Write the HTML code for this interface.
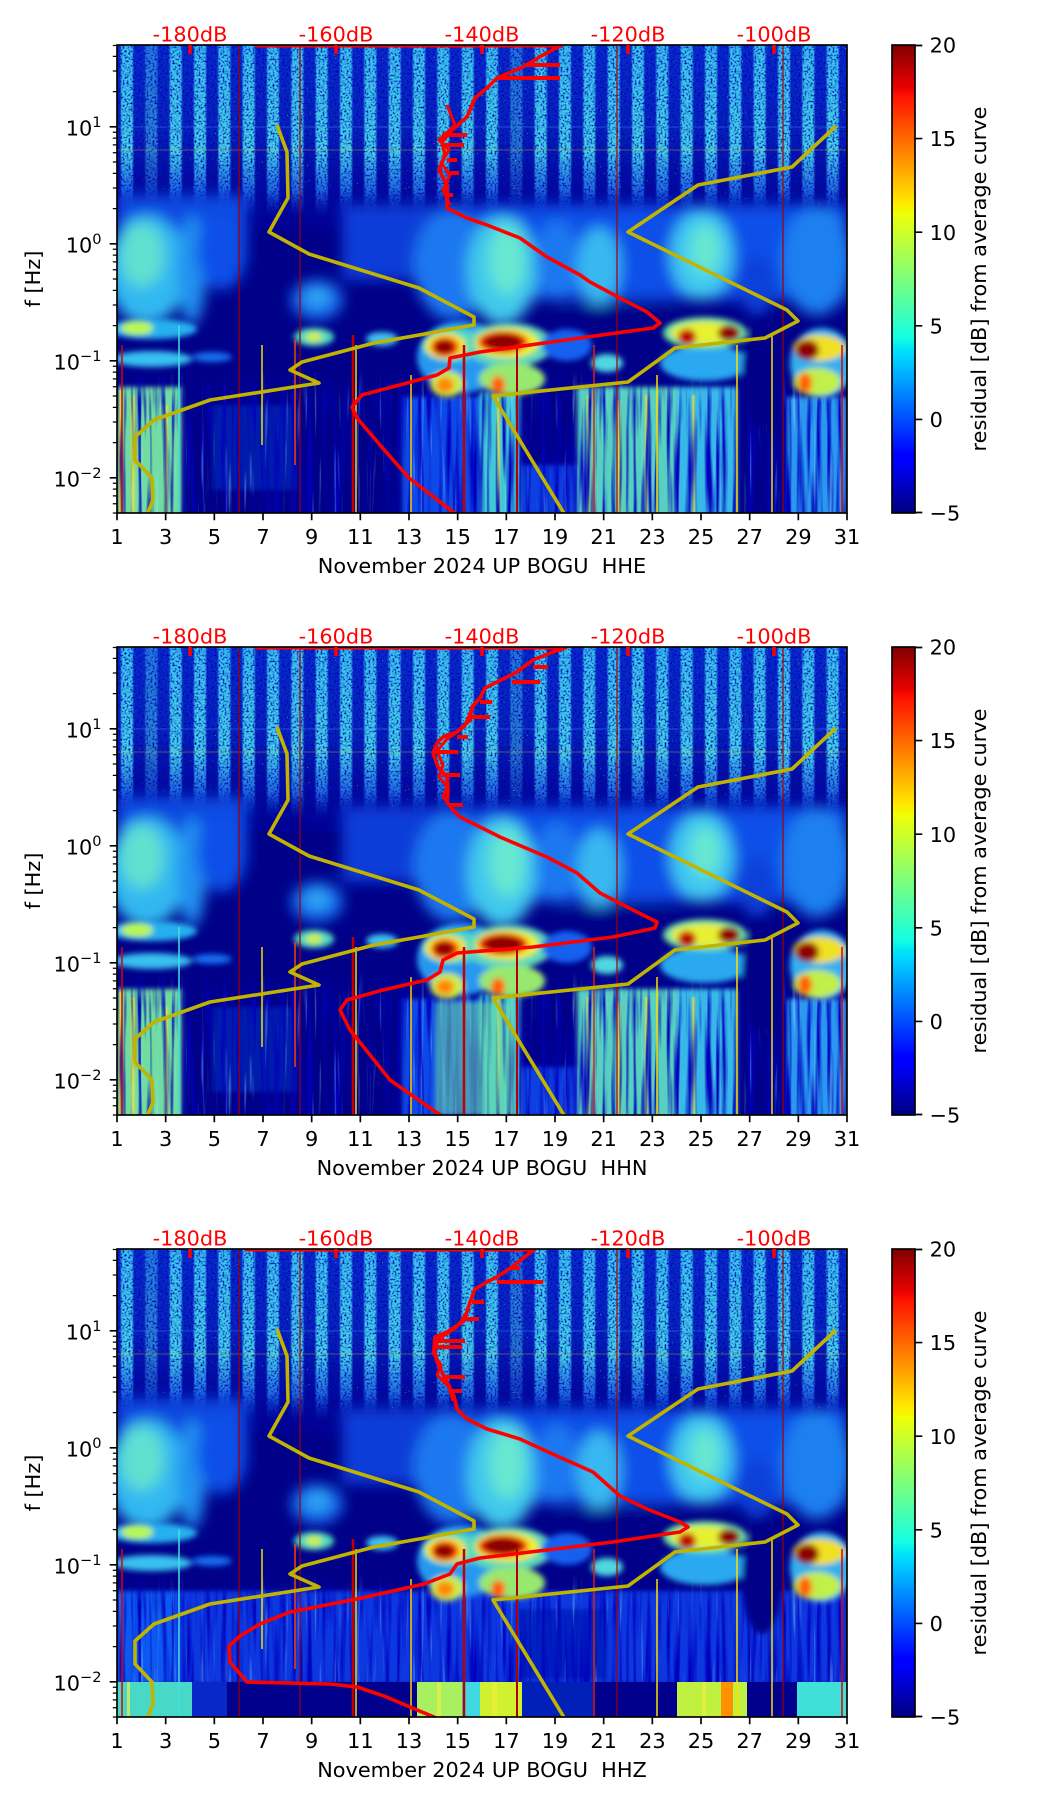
<!DOCTYPE html>
<html><head><meta charset="utf-8"><style>html,body{margin:0;padding:0;background:#fff}svg{display:block}</style></head>
<body>
<svg xmlns="http://www.w3.org/2000/svg" xmlns:xlink="http://www.w3.org/1999/xlink" width="1052" height="1806" viewBox="0 0 1052 1806" font-family="'DejaVu Sans', 'Liberation Sans', sans-serif" font-size="20.83">
<defs>
<clipPath id="pc"><rect x="0" y="0" width="730" height="468"/></clipPath>
<linearGradient id="jet" x1="0" y1="1" x2="0" y2="0">
<stop offset="0" stop-color="#000080"/><stop offset="0.11" stop-color="#0000ff"/><stop offset="0.125" stop-color="#0000ff"/>
<stop offset="0.34" stop-color="#00dbff"/><stop offset="0.35" stop-color="#00e5f7"/><stop offset="0.375" stop-color="#15ffe2"/>
<stop offset="0.64" stop-color="#efff08"/><stop offset="0.65" stop-color="#f7f500"/><stop offset="0.66" stop-color="#ffec00"/>
<stop offset="0.89" stop-color="#ff1300"/><stop offset="0.91" stop-color="#e80000"/><stop offset="1" stop-color="#800000"/>
</linearGradient>
<linearGradient id="upg" x1="0" y1="0" x2="0" y2="1">
<stop offset="0" stop-color="#082cc8"/><stop offset="0.45" stop-color="#0624b8"/><stop offset="0.68" stop-color="#03109e"/><stop offset="0.88" stop-color="#01068e"/><stop offset="1" stop-color="#000088"/>
</linearGradient>
<linearGradient id="stg" x1="0" y1="0" x2="0" y2="1">
<stop offset="0" stop-color="#38c4ec"/><stop offset="0.62" stop-color="#44d4e4"/><stop offset="0.84" stop-color="#2890f0" stop-opacity="0.75"/><stop offset="1" stop-color="#0a40d8" stop-opacity="0"/>
</linearGradient>
<linearGradient id="lmg" x1="0" y1="0" x2="0" y2="1">
<stop offset="0" stop-color="#000"/><stop offset="0.22" stop-color="#fff"/><stop offset="1" stop-color="#fff"/>
</linearGradient>
<mask id="lm" maskUnits="userSpaceOnUse" x="0" y="0" width="730" height="470"><rect x="0" y="325" width="730" height="145" fill="url(#lmg)"/></mask>
<filter id="bl7" filterUnits="userSpaceOnUse" x="-60" y="-60" width="850" height="590"><feGaussianBlur stdDeviation="7"/></filter>
<filter id="bl3" filterUnits="userSpaceOnUse" x="-60" y="-60" width="850" height="590"><feGaussianBlur stdDeviation="3"/></filter>
<filter id="bl2" filterUnits="userSpaceOnUse" x="-60" y="-60" width="850" height="590"><feGaussianBlur stdDeviation="2.5"/></filter>
<filter id="bl1" filterUnits="userSpaceOnUse" x="-60" y="-60" width="850" height="590"><feGaussianBlur stdDeviation="0.9"/></filter>
<filter id="spkN" filterUnits="userSpaceOnUse" x="0" y="0" width="730" height="185">
<feTurbulence type="fractalNoise" baseFrequency="0.5" numOctaves="1" seed="4"/>
<feColorMatrix type="matrix" values="0 0 0 0 0  0 0 0 0 0  0 0 0 0 0.53  3 0 0 0 -1.35"/>
</filter>
<filter id="spkB" filterUnits="userSpaceOnUse" x="0" y="0" width="730" height="160">
<feTurbulence type="fractalNoise" baseFrequency="0.6" numOctaves="1" seed="9"/>
<feColorMatrix type="matrix" values="0 0 0 0 1  0 0 0 0 0.9  0 0 0 0 0.15  0 10 0 0 -7.4"/>
</filter>
<filter id="vst" filterUnits="userSpaceOnUse" x="0" y="320" width="730" height="150">
<feTurbulence type="fractalNoise" baseFrequency="0.2 0.008" numOctaves="2" seed="12"/>
<feColorMatrix type="matrix" values="0 0 0 0 0  0 0 0 0 0  0 0 0 0 0.5  3.2 0 0 0 -1.45"/>
</filter>
<filter id="vstB" filterUnits="userSpaceOnUse" x="0" y="320" width="730" height="150">
<feTurbulence type="fractalNoise" baseFrequency="0.25 0.01" numOctaves="2" seed="21"/>
<feColorMatrix type="matrix" values="0 0 0 0 0.3  0 0 0 0 0.85  0 0 0 0 0.95  0 6 0 0 -3.8"/>
</filter>

<g id="specU">
<rect x="0" y="0" width="730" height="185" fill="url(#upg)"/>
<g filter="url(#bl1)" fill="url(#stg)">
<rect x="4" y="0" width="12" height="172"/>
<rect x="28.3" y="0" width="12" height="172" opacity="0.55"/>
<rect x="52.7" y="0" width="12" height="172"/>
<rect x="77" y="0" width="12" height="172"/>
<rect x="101.3" y="0" width="12" height="172"/>
<rect x="125.7" y="0" width="12" height="172"/>
<rect x="150" y="0" width="12" height="172"/>
<rect x="174.3" y="0" width="12" height="172"/>
<rect x="198.7" y="0" width="12" height="172"/>
<rect x="223" y="0" width="12" height="172"/>
<rect x="247.3" y="0" width="12" height="172"/>
<rect x="271.7" y="0" width="12" height="172"/>
<rect x="296" y="0" width="12" height="172"/>
<rect x="320.3" y="0" width="12" height="172"/>
<rect x="344.7" y="0" width="12" height="172"/>
<rect x="369" y="0" width="12" height="172"/>
<rect x="393.3" y="0" width="12" height="172" opacity="0.5"/>
<rect x="417.7" y="0" width="12" height="172"/>
<rect x="442" y="0" width="12" height="172"/>
<rect x="466.3" y="0" width="12" height="172"/>
<rect x="490.7" y="0" width="12" height="172"/>
<rect x="515" y="0" width="12" height="172"/>
<rect x="539.3" y="0" width="12" height="172"/>
<rect x="563.7" y="0" width="12" height="172"/>
<rect x="588" y="0" width="12" height="172"/>
<rect x="612.3" y="0" width="12" height="172"/>
<rect x="636.7" y="0" width="12" height="172"/>
<rect x="661" y="0" width="12" height="172"/>
<rect x="685.3" y="0" width="12" height="172"/>
<rect x="709.7" y="0" width="12" height="172"/>
</g>
<rect x="0" y="0" width="730" height="185" filter="url(#spkN)"/>
<rect x="0" y="0" width="730" height="160" filter="url(#spkB)"/>
<rect x="0" y="81" width="730" height="2" fill="#40a0f0" opacity="0.2"/>
<rect x="0" y="104" width="730" height="2" fill="#f0c020" opacity="0.18"/>
<g filter="url(#bl7)">
<rect x="0" y="150" width="130" height="50" fill="#0a48e0"/>
<rect x="225" y="160" width="145" height="75" fill="#0a3cd8"/>
<rect x="363" y="160" width="367" height="95" fill="#0c50e8"/>
<ellipse cx="30" cy="225" rx="40" ry="55" fill="#30b8f0"/>
<ellipse cx="25" cy="210" rx="22" ry="32" fill="#60e0d0"/>
<ellipse cx="75" cy="225" rx="14" ry="55" fill="#2090f0"/>
<ellipse cx="105" cy="205" rx="25" ry="40" fill="#0c50e8"/>
<ellipse cx="200" cy="255" rx="26" ry="20" fill="#1870f0"/>
<ellipse cx="200" cy="252" rx="12" ry="10" fill="#30a8f0"/>
<ellipse cx="335" cy="220" rx="38" ry="55" fill="#1a78f0"/>
<ellipse cx="385" cy="225" rx="35" ry="55" fill="#40c8ec"/>
<ellipse cx="390" cy="215" rx="18" ry="35" fill="#68e8d0"/>
<ellipse cx="440" cy="215" rx="22" ry="40" fill="#1c78f0"/>
<ellipse cx="482" cy="222" rx="22" ry="40" fill="#38b8f0"/>
<ellipse cx="585" cy="210" rx="32" ry="45" fill="#40c8f0"/>
<ellipse cx="588" cy="205" rx="15" ry="25" fill="#68e8d0"/>
<ellipse cx="700" cy="215" rx="35" ry="55" fill="#1a80f0"/>
<ellipse cx="640" cy="240" rx="18" ry="30" fill="#0a40d8"/>
<ellipse cx="500" cy="270" rx="60" ry="12" fill="#000088"/>
</g>
<g filter="url(#bl3)">
<ellipse cx="35" cy="284" rx="45" ry="10" fill="#28b0f0"/>
<ellipse cx="20" cy="283" rx="16" ry="7" fill="#b8f850"/>
<ellipse cx="35" cy="314" rx="40" ry="8" fill="#38c0f0"/>
<ellipse cx="95" cy="312" rx="20" ry="5" fill="#1870f0"/>
<ellipse cx="197" cy="292" rx="20" ry="9" fill="#50d8c0"/>
<ellipse cx="197" cy="292" rx="8" ry="5" fill="#d0f040"/>
<ellipse cx="265" cy="294" rx="16" ry="7" fill="#40c0f0"/>
<ellipse cx="345" cy="312" rx="45" ry="36" fill="#2898f0"/>
<ellipse cx="335" cy="300" rx="30" ry="17" fill="#50d8c8"/>
<ellipse cx="329" cy="301" rx="21" ry="13" fill="#f0e828"/>
<ellipse cx="328" cy="302" rx="14" ry="10" fill="#ff3800"/>
<ellipse cx="327" cy="302" rx="10" ry="7" fill="#8c0000"/>
<ellipse cx="330" cy="339" rx="17" ry="13" fill="#c8f048"/>
<ellipse cx="328" cy="340" rx="9" ry="8" fill="#ff8800"/>
<ellipse cx="392" cy="300" rx="44" ry="22" fill="#60d8b8"/>
<ellipse cx="390" cy="298" rx="32" ry="15" fill="#f0f028"/>
<ellipse cx="386" cy="297" rx="25" ry="11" fill="#f02800"/>
<ellipse cx="386" cy="297" rx="19" ry="8" fill="#8c0000"/>
<ellipse cx="395" cy="334" rx="33" ry="16" fill="#98e870"/>
<ellipse cx="381" cy="340" rx="7" ry="9" fill="#ff6000"/>
<ellipse cx="450" cy="300" rx="25" ry="16" fill="#1460f0"/>
<ellipse cx="490" cy="318" rx="16" ry="9" fill="#50d8e0"/>
<ellipse cx="588" cy="318" rx="45" ry="18" fill="#2ca8f0"/>
<ellipse cx="588" cy="288" rx="42" ry="16" fill="#70e0a0"/>
<ellipse cx="588" cy="288" rx="34" ry="11" fill="#e8f030"/>
<ellipse cx="570" cy="292" rx="9" ry="8" fill="#c00000"/>
<ellipse cx="612" cy="288" rx="11" ry="8" fill="#900000"/>
<ellipse cx="705" cy="318" rx="32" ry="35" fill="#30b0f0"/>
<ellipse cx="702" cy="303" rx="26" ry="13" fill="#f0e020"/>
<ellipse cx="690" cy="305" rx="12" ry="10" fill="#900000"/>
<ellipse cx="700" cy="337" rx="24" ry="14" fill="#c0f048"/>
<ellipse cx="688" cy="338" rx="7" ry="10" fill="#ff6000"/>
<ellipse cx="645" cy="330" rx="20" ry="55" fill="#000088"/>
</g>
</g>

<g id="lowA">
<g filter="url(#bl2)">
<rect x="0" y="342" width="65" height="130" fill="#70dca0"/>
<rect x="95" y="360" width="85" height="85" fill="#0838d0" opacity="0.5"/>
<rect x="285" y="352" width="80" height="120" fill="#0c48e8"/>
<rect x="363" y="347" width="40" height="125" fill="#40c8d8"/>
<rect x="403" y="420" width="57" height="50" fill="#0c40e0"/>
<rect x="460" y="342" width="100" height="130" fill="#58d0c0"/>
<rect x="560" y="342" width="60" height="130" fill="#38b8e8"/>
<rect x="670" y="352" width="60" height="120" fill="#2c98f0"/>
</g>
<g fill="#f0e030" opacity="0.75" filter="url(#bl1)">
<rect x="2" y="345" width="3" height="125"/><rect x="14" y="350" width="4" height="120"/><rect x="48" y="360" width="3" height="110"/>
<rect x="470" y="350" width="3" height="118"/><rect x="500" y="355" width="4" height="113"/><rect x="528" y="350" width="3" height="118"/>
<rect x="575" y="350" width="3" height="118"/><rect x="380" y="350" width="3" height="118"/>
</g>
<g mask="url(#lm)">
<rect x="0" y="320" width="730" height="150" filter="url(#vst)"/>
<rect x="0" y="320" width="730" height="150" filter="url(#vstB)" opacity="0.35"/>
</g>
</g>

<g id="lowB">
<g filter="url(#bl2)">
<rect x="0" y="342" width="730" height="93" fill="#0838e0"/>
<rect x="0" y="342" width="60" height="93" fill="#1058f0"/>
<rect x="400" y="360" width="90" height="70" fill="#0020c0"/>
</g>
<g mask="url(#lm)">
<rect x="0" y="320" width="730" height="150" filter="url(#vst)"/>
<rect x="0" y="320" width="730" height="150" filter="url(#vstB)" opacity="0.35"/>
</g>
<rect x="0" y="433" width="75" height="35" fill="#48d8c8"/>
<rect x="75" y="433" width="35" height="35" fill="#0828c8"/>
<rect x="110" y="433" width="190" height="35" fill="#00008c"/>
<rect x="300" y="433" width="45" height="35" fill="#a8f060"/>
<rect x="345" y="433" width="18" height="35" fill="#40d8e0"/>
<rect x="363" y="433" width="42" height="35" fill="#d0f030"/>
<rect x="405" y="433" width="71" height="35" fill="#0020b8"/>
<rect x="476" y="433" width="84" height="35" fill="#00008c"/>
<rect x="560" y="433" width="70" height="35" fill="#c0f040"/>
<rect x="604" y="433" width="12" height="35" fill="#ff9000"/>
<rect x="630" y="433" width="50" height="35" fill="#00008c"/>
<rect x="680" y="433" width="50" height="35" fill="#40e0d8"/>
<g fill="#f0f040" opacity="0.7"><rect x="10" y="433" width="3" height="35"/><rect x="320" y="433" width="4" height="35"/><rect x="375" y="433" width="5" height="35"/><rect x="585" y="433" width="4" height="35"/></g>
</g>

<g id="lines">
<g stroke="#a00000" stroke-width="1.2"><path d="M122,0V468M183,0V468M500,0V468M666,0V468"/></g>
<g stroke-width="1.5" fill="none">
<path d="M5,300V468" stroke="#e00000"/><path d="M62,280V468" stroke="#40e0e0"/>
<path d="M145,300V400" stroke="#f0e000"/><path d="M178,295V420" stroke="#ff4000"/>
<path d="M236,290V468" stroke="#c00000" stroke-width="2.5"/><path d="M239,300V468" stroke="#f0e000"/>
<path d="M294,330V468" stroke="#ffd000"/><path d="M347,300V468" stroke="#c00000" stroke-width="2.5"/>
<path d="M400,300V468" stroke="#b00000" stroke-width="2"/><path d="M477,300V468" stroke="#e02000"/>
<path d="M540,330V468" stroke="#ffe000"/><path d="M620,300V468" stroke="#ffe000"/>
<path d="M655,290V468" stroke="#f0e000"/><path d="M725,300V468" stroke="#e00000"/>
</g>
<g fill="none" stroke="#c0b400" stroke-width="3.6" stroke-linejoin="round">
<path d="M160,80L170,107L171,153L152,187L192,209L302,243L357,272L357,280L302,290L257,298L185,317L173,325L202,338L93,355L37,375L18,392L18,415L35,433L36,455L30,470"/>
<path d="M719,81L675,122L581,140L511,187L670,265L681,276L648,293L558,303L511,337L376,351L448,470"/>
</g>
</g>

<g id="deco">
<rect x="117" y="0" width="730" height="468" fill="none" stroke="#000" stroke-width="1.67"/>
<path stroke="#000" stroke-width="1.67" d="M117,468v7.3M165.67,468v7.3M214.33,468v7.3M263,468v7.3M311.67,468v7.3M360.33,468v7.3M409,468v7.3M457.67,468v7.3M506.33,468v7.3M555,468v7.3M603.67,468v7.3M652.33,468v7.3M701,468v7.3M749.67,468v7.3M798.33,468v7.3M847,468v7.3"/>
<g text-anchor="middle" fill="#000">
<text x="117" y="499">1</text><text x="165.67" y="499">3</text><text x="214.33" y="499">5</text><text x="263" y="499">7</text>
<text x="311.67" y="499">9</text><text x="360.33" y="499">11</text><text x="409" y="499">13</text><text x="457.67" y="499">15</text>
<text x="506.33" y="499">17</text><text x="555" y="499">19</text><text x="603.67" y="499">21</text><text x="652.33" y="499">23</text>
<text x="701" y="499">25</text><text x="749.67" y="499">27</text><text x="798.33" y="499">29</text><text x="847" y="499">31</text>
</g>
<path stroke="#000" stroke-width="1.67" d="M109.7,81.8h7.3M109.7,198.8h7.3M109.7,315.8h7.3M109.7,432.8h7.3"/>
<path stroke="#000" stroke-width="1.25" d="M112.8,468h4.2M112.8,458.8h4.2M112.8,450.9h4.2M112.8,444.1h4.2M112.8,438.2h4.2M112.8,397.6h4.2M112.8,377h4.2M112.8,362.4h4.2M112.8,351h4.2M112.8,341.7h4.2M112.8,333.9h4.2M112.8,327.1h4.2M112.8,321.2h4.2M112.8,280.6h4.2M112.8,260h4.2M112.8,245.4h4.2M112.8,234h4.2M112.8,224.7h4.2M112.8,216.9h4.2M112.8,210.1h4.2M112.8,204.2h4.2M112.8,163.6h4.2M112.8,143h4.2M112.8,128.4h4.2M112.8,117h4.2M112.8,107.7h4.2M112.8,99.9h4.2M112.8,93.1h4.2M112.8,87.2h4.2M112.8,46.6h4.2M112.8,26h4.2M112.8,11.4h4.2M112.8,0.5h4.2"/>
<g text-anchor="end" fill="#000">
<text x="101.5" y="90.7">10<tspan font-size="14.6" dy="-8.5">1</tspan></text>
<text x="101.5" y="207.7">10<tspan font-size="14.6" dy="-8.5">0</tspan></text>
<text x="101.5" y="324.7">10<tspan font-size="14.6" dy="-8.5">−1</tspan></text>
<text x="101.5" y="441.7">10<tspan font-size="14.6" dy="-8.5">−2</tspan></text>
</g>
<text transform="translate(40,234) rotate(-90)" text-anchor="middle" fill="#000">f [Hz]</text>
<path stroke="#f00" stroke-width="3.5" d="M190,0v9M336,0v9M482,0v9M628,0v9M774,0v9"/>
<g text-anchor="middle" fill="#f00">
<text x="190" y="-3.5">-180dB</text><text x="336" y="-3.5">-160dB</text><text x="482" y="-3.5">-140dB</text><text x="628" y="-3.5">-120dB</text><text x="774" y="-3.5">-100dB</text>
</g>
<rect x="892" y="0" width="23" height="468" fill="url(#jet)" stroke="#000" stroke-width="1.67"/>
<path stroke="#000" stroke-width="1.67" d="M915,0.5h7.3M915,93.6h7.3M915,187.2h7.3M915,280.8h7.3M915,374.4h7.3M915,467.5h7.3"/>
<g fill="#000">
<text x="929.6" y="7.6">20</text><text x="929.6" y="101.2">15</text><text x="929.6" y="194.8">10</text>
<text x="929.6" y="288.4">5</text><text x="929.6" y="382">0</text><text x="929.6" y="475.6">−5</text>
</g>
<text transform="translate(986,234) rotate(-90)" text-anchor="middle" fill="#000">residual [dB] from average curve</text>
</g>
</defs>

<rect x="0" y="0" width="1052" height="1806" fill="#fff"/>

<g transform="translate(0,45)">
<g transform="translate(117,0)">
<g clip-path="url(#pc)">
<rect x="0" y="0" width="730" height="468" fill="#000088"/>
<use xlink:href="#lowA"/>
<use xlink:href="#specU"/>
<use xlink:href="#lines"/>
<g fill="none" stroke="#ff0000" stroke-width="3.6" stroke-linejoin="round">
<path d="M445,0L426,10L406,22L380,33L370,43L358,53L350,72L335,85L325,97L328,110L322,125L330,140L330,163L350,173L370,180L403,193L430,212L463,230L473,237L503,253L530,267L543,278L536,283L463,293L363,307L333,313L332,323L320,330L290,338L245,350L235,362L240,373L263,400L292,433L340,470"/>
<path d="M406,20H443M380,33H443M325,90H350M325,100H347M330,115H340M330,128H342M328,150H336" stroke-width="4"/>
<path d="M330,60L338,80L322,95L332,105L324,118L333,130L326,145L333,160" stroke-width="3"/>
</g>
</g>
<path d="M138,1H445" stroke="#ff0000" stroke-width="3"/>
</g>
<use xlink:href="#deco"/>
<text x="482" y="528" text-anchor="middle" fill="#000" xml:space="preserve" style="white-space:pre">November 2024 UP BOGU  HHE</text>
</g>

<g transform="translate(0,647)">
<g transform="translate(117,0)">
<g clip-path="url(#pc)">
<rect x="0" y="0" width="730" height="468" fill="#000088"/>
<use xlink:href="#lowA"/>
<rect x="318" y="355" width="80" height="113" fill="#70e0a0" opacity="0.55" filter="url(#bl2)"/>
<use xlink:href="#specU"/>
<use xlink:href="#lines"/>
<g fill="none" stroke="#ff0000" stroke-width="3.6" stroke-linejoin="round">
<path d="M450,0L436,5L416,13L400,25L380,35L368,41L363,51L355,60L353,73L340,85L326,90L320,96L316,106L321,120L330,130L331,143L330,155L336,163L343,170L383,190L430,210L460,226L483,246L516,263L540,275L538,281L496,290L416,300L340,306L326,313L323,325L310,333L266,343L230,353L223,363L233,383L273,433L326,470"/>
<path d="M416,20H431M395,35H423M363,55H375M353,70H373M340,90H351M318,105H341M325,128H343M333,158H346" stroke-width="4"/>
<path d="M355,62L347,80L330,92L320,104L326,118L322,130L330,140L326,150L334,160" stroke-width="3"/>
</g>
</g>
<path d="M138,1H450" stroke="#ff0000" stroke-width="3"/>
</g>
<use xlink:href="#deco"/>
<text x="482" y="528" text-anchor="middle" fill="#000" xml:space="preserve" style="white-space:pre">November 2024 UP BOGU  HHN</text>
</g>

<g transform="translate(0,1249)">
<g transform="translate(117,0)">
<g clip-path="url(#pc)">
<rect x="0" y="0" width="730" height="468" fill="#000088"/>
<use xlink:href="#lowB"/>
<use xlink:href="#specU"/>
<use xlink:href="#lines"/>
<g fill="none" stroke="#ff0000" stroke-width="3.6" stroke-linejoin="round">
<path d="M418,0L405,10L395,18L380,28L370,33L358,40L353,53L347,72L330,83L318,88L317,100L320,113L325,123L330,133L337,147L340,160L350,170L370,180L403,190L440,207L476,223L503,247L530,260L563,273L571,278L563,283L496,293L363,309L340,315L333,325L307,335L240,350L173,363L143,375L123,387L112,397L113,413L130,433L213,435L240,438L267,447L293,458L317,468L322,472"/>
<path d="M395,19H403M380,33H426M355,53H367M348,70H362M318,92H348M318,98H345M325,128H348M332,142H345" stroke-width="4"/>
<path d="M352,60L340,78L322,90L316,104L324,116L320,126L332,138L336,152" stroke-width="3"/>
</g>
</g>
<path d="M128,1H418" stroke="#ff0000" stroke-width="3"/>
</g>
<use xlink:href="#deco"/>
<text x="482" y="528" text-anchor="middle" fill="#000" xml:space="preserve" style="white-space:pre">November 2024 UP BOGU  HHZ</text>
</g>
</svg>
</body></html>
